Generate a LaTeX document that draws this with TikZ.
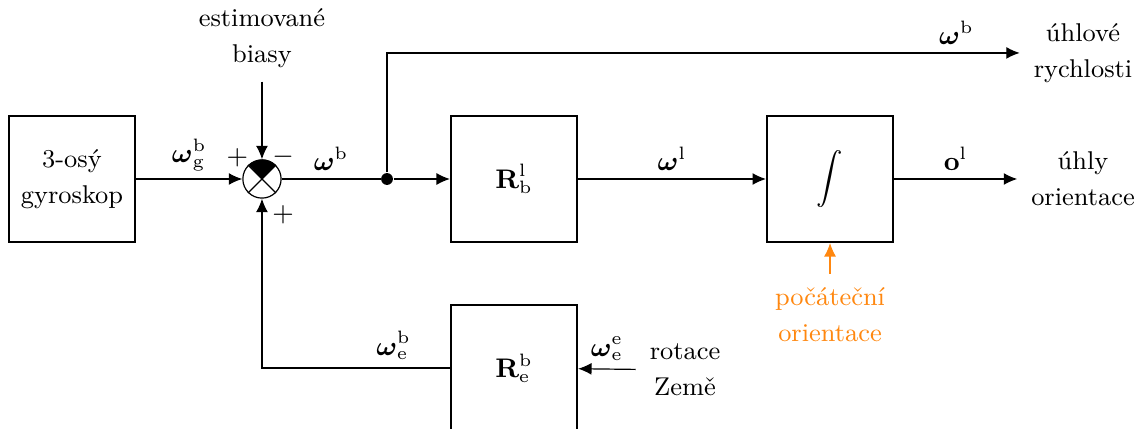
\documentclass[tikz,border=0pt]{standalone}
\usepackage{amsmath,amssymb}
\usepackage{tikz}
\usetikzlibrary{positioning,calc}
\usetikzlibrary{arrows.meta}
\definecolor{StartOrange}{RGB}{255,135,15}
\tikzset{
  blok/.style={draw=black,thick,minimum size=1.48cm,inner sep=0pt,align=center},
  sig/.style={draw=black,-{Latex[length=4.5pt,width=4pt]}},
  txt/.style={align=center,inner sep=4.5pt},
  suma/.style={circle,draw=black,minimum size=0.45cm,inner sep=0pt},
}
\tikzset{dot/.style={circle,fill=black,inner sep=1.4pt}, lbl/.style={above,inner sep=2.5pt}}

\begin{document}
\begin{tikzpicture}[font=\fontsize{8.6}{12}\selectfont]
\useasboundingbox (0,0) rectangle (13.447,5.047);
\node[blok] (gyro) at (0.847,2.941) {3-osý\\gyroskop};
\node[suma] (sum) at (3.082,2.941) {};
\node[dot] (split) at (4.553,2.941) {};
\node[blok] (rlb) at (6.047,2.941) {$\mathbf{R}^{\mathrm{l}}_{\mathrm{b}}$};
\node[blok] (integ) at (9.765,2.941) {$\displaystyle\int$};
\node[blok] (reb) at (6.047,0.718) {$\mathbf{R}^{\mathrm{b}}_{\mathrm{e}}$};
\node[txt] (bias) at (3.082,4.6) {estimované\\biasy};
\node[txt] (rate) at (12.741,4.424) {úhlové\\rychlosti};
\node[txt] (angles) at (12.741,2.941) {úhly\\orientace};
\node[txt,text=StartOrange] (init) at (9.765,1.341) {počáteční\\orientace};
\node[txt] (earth) at (8.059,0.694) {rotace\\Země};
% summing junction
\fill (sum.center) -- (sum.45) arc[start angle=45,end angle=135,radius=0.225cm] -- cycle;
\draw (sum.45) -- (sum.225) (sum.135) -- (sum.315);
\node (plusL) at ($(sum)+(-0.29,0.25)$) {$+$};
\node (minus) at ($(sum)+(0.25,0.26)$) {$-$};
\node (plusB) at ($(sum)+(0.25,-0.42)$) {$+$};
% signals
\draw[sig] (gyro) -- node[lbl] {$\boldsymbol{\omega}^{\mathrm{b}}_{\mathrm{g}}$} (sum);
\draw[sig] (bias) -- (sum);
\draw (sum) -- node[lbl] {$\boldsymbol{\omega}^{\mathrm{b}}$} (split);
\draw[sig] (split) -- (rlb);
\draw[sig] (split) |- node[lbl,pos=0.95] {$\boldsymbol{\omega}^{\mathrm{b}}$} (rate);
\draw[sig] (rlb) -- node[lbl] {$\boldsymbol{\omega}^{\mathrm{l}}$} (integ);
\draw[sig] (integ) -- node[lbl] {$\mathbf{o}^{\mathrm{l}}$} (angles);
\draw[sig,draw=StartOrange] (init) -- (integ);
\draw[sig] (earth) -- node[lbl] {$\boldsymbol{\omega}^{\mathrm{e}}_{\mathrm{e}}$} (reb);
\draw[sig] (reb) -| node[lbl,pos=0.15] {$\boldsymbol{\omega}^{\mathrm{b}}_{\mathrm{e}}$} (sum);
\end{tikzpicture}
\end{document}
